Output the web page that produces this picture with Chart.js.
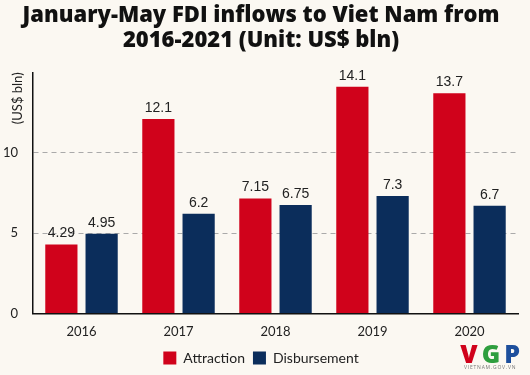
<!DOCTYPE html>
<html>
<head>
<meta charset="utf-8">
<script src="https://cdn.jsdelivr.net/npm/chart.js@4"></script>
<style>
  html, body { margin: 0; padding: 0; background: #fbf8f2; }
  #wrap { position: relative; width: 530px; height: 375px; }
  #logo { position: absolute; right: 10px; top: 342px; text-align: center; font-family: "Open Sans", sans-serif; }
  #logo .big { font-size: 25px; font-weight: 800; letter-spacing: 4px; line-height: 22px; margin-right: -4px; }
  #logo .small { font-size: 5px; color: #777; letter-spacing: 0.8px; line-height: 7px; }
</style>
</head>
<body>
<div id="wrap">
  <canvas id="chart" width="530" height="375"></canvas>
  <div id="logo"><div class="big"><span style="color:#d0021b">V</span><span style="color:#2e9e3e">G</span><span style="color:#1d4f9c">P</span></div><div class="small">VIETNAM.GOV.VN</div></div>
</div>
<script>
const years = ['2016', '2017', '2018', '2019', '2020'];
const attraction = [4.29, 12.1, 7.15, 14.1, 13.7];
const disbursement = [4.95, 6.2, 6.75, 7.3, 6.7];
const yTicks = [0, 5, 10];

// numbers above each bar
const valueLabels = {
  id: 'valueLabels',
  afterDatasetsDraw(chart) {
    const ctx = chart.ctx;
    ctx.save();
    ctx.font = '14px "Liberation Sans", Arial, sans-serif';
    ctx.fillStyle = '#222';
    ctx.textAlign = 'center';
    ctx.textBaseline = 'bottom';
    chart.data.datasets.forEach((ds, i) => {
      chart.getDatasetMeta(i).data.forEach((bar, j) => {
        ctx.fillText(String(ds.data[j]), bar.x, bar.y - 4);
      });
    });
    ctx.restore();
  }
};

// rotated unit label at the top left of the y axis
const unitLabel = {
  id: 'unitLabel',
  afterDraw(chart) {
    const ctx = chart.ctx;
    ctx.save();
    ctx.translate(18, chart.chartArea.top);
    ctx.rotate(-Math.PI / 2);
    ctx.font = '13px Lato, sans-serif';
    ctx.fillStyle = '#222';
    ctx.textAlign = 'right';
    ctx.textBaseline = 'middle';
    ctx.fillText('(US$ bln)', 0, 0);
    ctx.restore();
  }
};

new Chart(document.getElementById('chart'), {
  type: 'bar',
  data: {
    labels: years,
    datasets: [
      { label: 'Attraction', data: attraction, backgroundColor: '#d0021b' },
      { label: 'Disbursement', data: disbursement, backgroundColor: '#0b2d5b' }
    ]
  },
  options: {
    responsive: false,
    animation: false,
    layout: { padding: { left: 4, right: 12, top: 0, bottom: 0 } },
    datasets: { bar: { categoryPercentage: 0.83, barPercentage: 0.8 } },
    plugins: {
      title: {
        display: true,
        text: ['January-May FDI inflows to Viet Nam from', '2016-2021 (Unit: US$ bln)'],
        font: { family: '"Open Sans", sans-serif', size: 22, weight: '800', lineHeight: 1.1 },
        color: '#111',
        padding: { top: 4, bottom: 20 }
      },
      legend: {
        position: 'bottom',
        labels: {
          font: { family: 'Lato, sans-serif', size: 14 },
          color: '#222',
          boxWidth: 13,
          boxHeight: 13,
          padding: 8
        }
      },
      tooltip: { enabled: false }
    },
    scales: {
      x: {
        grid: { display: false },
        border: { color: '#111', width: 1.5 },
        ticks: { font: { family: 'Lato, sans-serif', size: 13 }, color: '#222' }
      },
      y: {
        min: 0,
        max: 15,
        afterBuildTicks: (axis) => { axis.ticks = yTicks.map(v => ({ value: v })); },
        afterFit: (axis) => { axis.width = 29; },
        border: { color: '#111', width: 1.5, dash: [5, 4] },
        grid: {
          color: (c) => c.tick.value === 0 ? 'rgba(0,0,0,0)' : '#aaa',
          drawTicks: false
        },
        ticks: { font: { family: 'Lato, sans-serif', size: 13 }, color: '#222', padding: 15 }
      }
    }
  },
  plugins: [valueLabels, unitLabel]
});
</script>
</body>
</html>
